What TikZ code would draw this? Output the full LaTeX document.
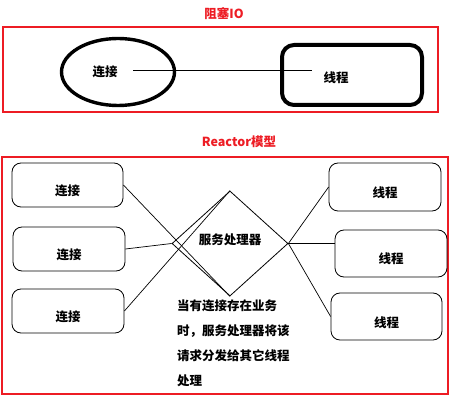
\documentclass[tikz,border=0pt]{standalone}
\usepackage{fontspec}
\newfontfamily\cjk{Noto Sans CJK SC}
\usepackage{tikz}
\usetikzlibrary{shapes.geometric,positioning}
\definecolor{framered}{HTML}{ED1C24}
\tikzset{
  red frame/.style  = {draw=framered, line width=1.3pt},
  title text/.style = {text=framered, inner sep=0pt,
                       font=\cjk\bfseries\fontsize{12.5}{14}\selectfont},
  body text/.style  = {font=\cjk\bfseries\fontsize{12.5}{25}\selectfont},
  io conn/.style    = {ellipse, draw, line width=3.4pt,
                       minimum width=113pt, minimum height=67pt},
  io thread/.style  = {draw, line width=4pt, rounded corners=12pt,
                       minimum width=140pt, minimum height=60pt},
  tape box/.style   = {draw, line width=0.8pt, rounded corners=9pt,
                       minimum width=111pt, minimum height=44pt, body text,
                       text height=21pt, text depth=0pt},
  link/.style       = {black, line width=0.7pt},
}
\begin{document}
\begin{tikzpicture}[x=1pt, y=-1pt]
    \useasboundingbox (0,0) rectangle (457,411);
    % blocking IO
    \node[title text] (iotitle) at (224,14) {阻塞IO};
    \draw[red frame] (3,27) rectangle (438,112);
    \node[io conn] (ioconn) at (118,72) {};
    \node[body text] (ioconnTxt) at (105,72) {连接};
    \node[io thread] (iothread) at (352,75) {};
    \node[body text] (iothreadTxt) at (336,78) {线程};
    \coordinate (ioL) at (133,70);
    \coordinate (ioR) at (312,70);
    \draw[link] (ioL) -- (ioR);
    % reactor
    \node[title text] (retitle) at (239,142) {Reactor模型};
    \draw[red frame] (2,157) rectangle (448,394);
    \node[tape box] (c1) at (67.5,185) {连接};
    \node[tape box, minimum width=112pt] (c2) at (69,249) {连接};
    \node[tape box, minimum width=112pt] (c3) at (68,311) {连接};
    \node[diamond, draw, line width=0.8pt, body text, inner sep=0pt,
          text depth=8pt, minimum width=116pt, minimum height=105pt] (proc) at (230,243.5) {服务处理器};
    \node[tape box, minimum width=112pt, minimum height=48pt] (t1) at (385,187) {线程};
    \node[tape box, minimum width=112pt, minimum height=47pt] (t2) at (391,253.5) {线程};
    \node[tape box, minimum height=47pt] (t3) at (386.5,316.5) {线程};
    \draw[link] (c1.east) -- (proc.south);
    \draw[link] (c2.east) -- (proc.west);
    \draw[link] (c3.east) -- (proc.north);
    \draw[link] (proc.east) -- (t1.west);
    \draw[link] (proc.east) -- (proc.east -| t2.west);
    \draw[link] (proc.east) -- (t3.west);
    \node[body text, align=left, anchor=north west, inner sep=0pt] (note) at (177,300)
      {当有连接存在业务\\时，服务处理器将该\\请求分发给其它线程\\处理};
\end{tikzpicture}
\end{document}
